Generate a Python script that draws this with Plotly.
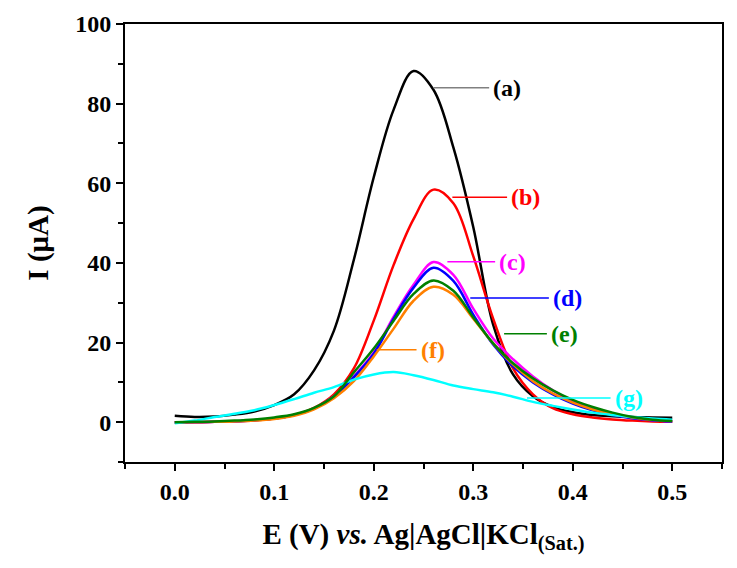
import plotly.graph_objects as go

# potential (V) vs Ag|AgCl|KCl(sat.)
potential = [0.00, 0.02, 0.04, 0.06, 0.08, 0.10, 0.12, 0.14, 0.16, 0.18, 0.20, 0.22, 0.24,
             0.26, 0.28, 0.30, 0.32, 0.34, 0.36, 0.38, 0.40, 0.42, 0.44, 0.46, 0.48, 0.50]

# current (uA) for each sample
curr_a = [1.6, 1.3, 1.4, 1.9, 2.7, 4.3, 7.0, 13.0, 23.0, 40.8, 61.5, 78.5, 88.2,
          83.5, 69.0, 49.0, 24.5, 12.0, 6.5, 3.8, 2.5, 1.8, 1.5, 1.3, 1.2, 1.1]
curr_b = [0.0, 0.0, 0.1, 0.2, 0.4, 0.9, 1.8, 3.6, 7.0, 13.5, 25.5, 39.5, 51.0,
          58.4, 55.0, 41.7, 26.0, 13.5, 7.0, 3.5, 2.0, 1.2, 0.7, 0.4, 0.2, 0.1]
curr_c = [0.0, 0.0, 0.1, 0.2, 0.5, 0.9, 1.8, 3.4, 6.5, 11.5, 17.5, 26.5, 34.5,
          40.2, 37.0, 28.5, 21.0, 15.8, 11.5, 8.0, 5.2, 3.3, 2.0, 1.1, 0.5, 0.2]
curr_d = [0.0, 0.0, 0.1, 0.2, 0.5, 0.9, 1.8, 3.4, 6.4, 11.3, 17.2, 26.0, 33.8,
          38.8, 35.5, 27.0, 19.5, 14.0, 10.0, 7.0, 4.7, 3.0, 1.8, 1.0, 0.5, 0.2]
curr_e = [0.0, 0.1, 0.2, 0.4, 0.7, 1.2, 2.0, 3.6, 6.5, 12.5, 18.5, 25.5, 32.2,
          35.6, 33.0, 26.3, 19.8, 14.8, 11.0, 8.0, 5.6, 3.8, 2.4, 1.3, 0.6, 0.3]
curr_f = [0.0, 0.0, 0.1, 0.2, 0.4, 0.8, 1.6, 3.2, 6.0, 10.3, 16.5, 23.5, 30.5,
          34.0, 32.0, 26.0, 19.8, 14.5, 10.3, 7.2, 4.9, 3.2, 2.0, 1.2, 0.6, 0.3]
curr_g = [-0.3, 0.4, 1.3, 2.1, 3.0, 4.3, 5.8, 7.4, 8.8, 10.7, 12.0, 12.6, 11.8,
          10.6, 9.2, 8.3, 7.5, 6.4, 5.1, 4.1, 3.2, 2.4, 1.8, 1.3, 0.9, 0.6]

labels = ['(a)', '(b)', '(c)', '(d)', '(e)', '(f)', '(g)']
colors = ['#000000', '#FF0000', '#FF00FF', '#0000FF', '#008000', '#FF8000', '#00FFFF']
series = [curr_a, curr_b, curr_c, curr_d, curr_e, curr_f, curr_g]

# label leader lines: (x start, x end, y)
leaders = [(0.260, 0.316, 84.0), (0.279, 0.334, 56.5), (0.274, 0.322, 40.3),
           (0.297, 0.376, 31.2), (0.331, 0.374, 22.2), (0.203, 0.243, 18.2),
           (0.354, 0.438, 6.1)]
leader_colors = ['#808080', '#FF0000', '#FF00FF', '#0000FF', '#008000', '#FF8000', '#00FFFF']

FONT = 'Liberation Serif'

fig = go.Figure()
draw_order = [0, 1, 2, 3, 5, 6, 4]
for i in draw_order:
    fig.add_trace(go.Scatter(x=potential, y=series[i], mode='lines', name=labels[i],
                             line=dict(color=colors[i], width=2.5, shape='spline', smoothing=1.0)))

for i, (x0, x1, y) in enumerate(leaders):
    fig.add_shape(type='line', x0=x0, x1=x1, y0=y, y1=y, xref='x', yref='y',
                  line=dict(color=leader_colors[i], width=1.5))
    fig.add_annotation(x=x1 + 0.002, y=y, text='<b>' + labels[i] + '</b>', showarrow=False,
                       xanchor='left', yanchor='middle',
                       font=dict(family=FONT, size=24, color=colors[i]))

axis_common = dict(showline=True, linecolor='black', linewidth=2, mirror=True,
                   ticks='outside', ticklen=7, tickwidth=2, tickcolor='black',
                   showgrid=False, zeroline=False, automargin=False,
                   tickfont=dict(family=FONT, size=24, color='black', weight='bold'))

fig.update_xaxes(range=[-0.05, 0.55], tick0=0, dtick=0.1, tickformat='.1f',
                 minor=dict(ticks='outside', dtick=0.05, tick0=0, ticklen=5, tickwidth=2, tickcolor='black'),
                 title=dict(text='<b>E (V) <i>vs.</i> Ag|AgCl|KCl<sub>(Sat.)</sub></b>',
                            font=dict(family=FONT, size=29, color='black'), standoff=20),
                 **axis_common)
fig.update_yaxes(range=[-10, 100], tick0=0, dtick=20,
                 minor=dict(ticks='outside', dtick=10, tick0=0, ticklen=5, tickwidth=2, tickcolor='black'),
                 title=dict(text='<b>I (\u03bcA)</b>',
                            font=dict(family=FONT, size=29, color='black'), standoff=18),
                 **axis_common)

# page body adds an 8px offset, so margins are trimmed to land the frame where the reference has it
fig.update_layout(width=737, height=568, showlegend=False,
                  margin=dict(l=117, r=23, t=16, b=114),
                  plot_bgcolor='white', paper_bgcolor='white')

fig.write_html("out.html")
